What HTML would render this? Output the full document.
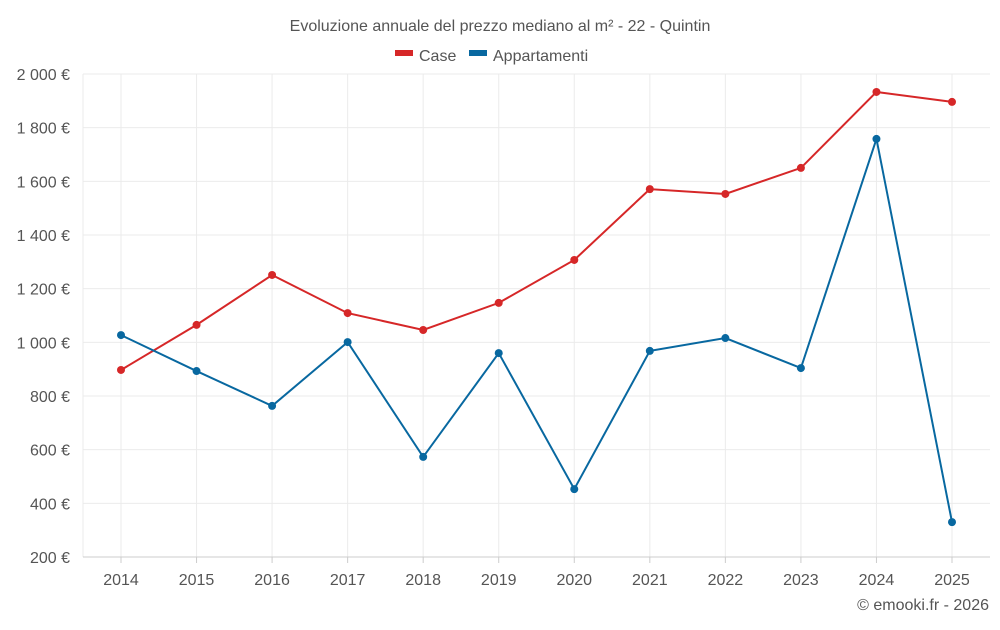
<!DOCTYPE html>
<html><head><meta charset="utf-8"><style>
body{margin:0;background:#fff;font-family:"Liberation Sans",sans-serif}
svg text{font-family:"Liberation Sans",sans-serif}
</style></head><body>
<svg id="c" width="1000" height="625">
<text x="500" y="31" text-anchor="middle" font-size="16" fill="#555">Evoluzione annuale del prezzo mediano al m² - 22 - Quintin</text>
<g>
<g><rect x="395" y="50" width="18" height="6" fill="#d62728"/><text x="419" y="61" font-size="16" fill="#555">Case</text></g>
<g><rect x="469" y="50" width="18" height="6" fill="#0868a0"/><text x="493" y="61" font-size="16" fill="#555">Appartamenti</text></g>
</g>
<g id="grid"></g><g id="axes"></g><g id="series"></g>
<text x="989" y="610" text-anchor="end" font-size="16" fill="#555">© emooki.fr - 2026</text>
</svg>
<script>
const years=[2014,2015,2016,2017,2018,2019,2020,2021,2022,2023,2024,2025];
const casePrices=[897,1065,1251,1109,1046,1147,1307,1571,1553,1650,1933,1896];
const apptPrices=[1027,893,763,1001,573,960,453,968,1016,904,1758,330];
const yTicks=[200,400,600,800,1000,1200,1400,1600,1800,2000];
const ns='http://www.w3.org/2000/svg';
const L=83,R=990,T=74,B=557;
const x=i=>121+i*(952-121)/(years.length-1);
const y=v=>B-(v-200)/(2000-200)*(B-T);
function mk(t,a,p){const e=document.createElementNS(ns,t);for(const k in a)e.setAttribute(k,a[k]);p.appendChild(e);return e;}
const g=document.getElementById('grid'),ax=document.getElementById('axes'),s=document.getElementById('series');
yTicks.forEach(v=>{
 const ln=mk('line',{x1:L,x2:R,y1:y(v),y2:y(v),stroke:'#ebebeb'},g);
 
 
 const t=mk('text',{x:70,y:y(v)+6,'text-anchor':'end','font-size':16,fill:'#555'},ax);
 t.textContent=String(v).replace(/\B(?=(\d{3})+$)/,' ')+' €';
 
 
});
const lv=mk('line',{x1:L,x2:L,y1:T,y2:B,stroke:'#ebebeb'},g);


years.forEach((yr,i)=>{
 const ln=mk('line',{x1:x(i),x2:x(i),y1:T,y2:B,stroke:'#ebebeb'},g);
 
 
 const tk=mk('line',{x1:x(i),x2:x(i),y1:B,y2:B+6,stroke:'#ccc'},ax);
 
 
 const t=mk('text',{x:x(i),y:585,'text-anchor':'middle','font-size':16,fill:'#555'},ax);
 t.textContent=yr;
 
 
});
const base=mk('line',{x1:L,x2:R,y1:B,y2:B,stroke:'#ccc'},ax);


function series(vals,col,name){
 const p=mk('polyline',{points:vals.map((v,i)=>x(i)+','+y(v)).join(' '),fill:'none',stroke:col,'stroke-width':2},s);
 
 
 vals.forEach((v,i)=>{
  const c=mk('circle',{cx:x(i),cy:y(v),r:4,fill:col},s);
  
  
 });
}
series(casePrices,'#d62728','case');
series(apptPrices,'#0868a0','appartamenti');
</script>
</body></html>
